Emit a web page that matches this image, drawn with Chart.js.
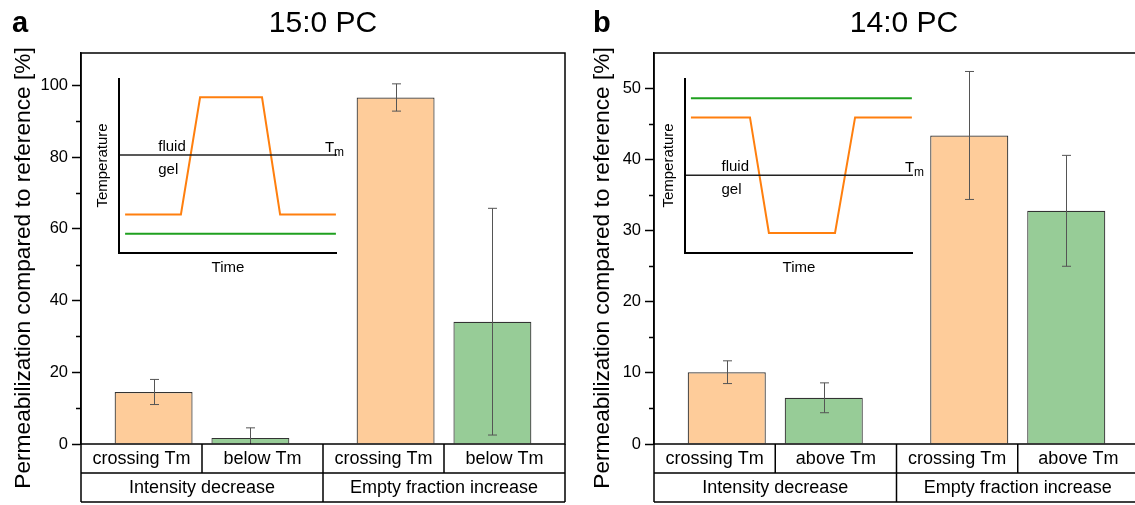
<!DOCTYPE html>
<html>
<head>
<meta charset="utf-8">
<script src="https://cdn.jsdelivr.net/npm/chart.js@4"></script>
<style>
  html, body { margin: 0; padding: 0; background: #fff; overflow: hidden; }
  #page { position: relative; width: 1135px; height: 505px; overflow: hidden; }
  .box { position: absolute; }
</style>
</head>
<body>
<div id="page">
  <div class="box" style="left:0;top:0;width:567px;height:505px"><canvas id="mainA"></canvas></div>
  <div class="box" style="left:567px;top:0;width:578px;height:505px"><canvas id="mainB"></canvas></div>
  <div class="box" style="left:90px;top:60px;width:270px;height:220px"><canvas id="insetA"></canvas></div>
  <div class="box" style="left:655px;top:60px;width:280px;height:220px"><canvas id="insetB"></canvas></div>
</div>
<script>
// bar slots on the x axis (two groups of two bars)
const crossingSlots = [1, 3.5];
const otherSlots = [2, 4.5];

const groupLabels = ['Intensity decrease', 'Empty fraction increase'];
const subLabelsA = ['crossing Tm', 'below Tm', 'crossing Tm', 'below Tm'];
const subLabelsB = ['crossing Tm', 'above Tm', 'crossing Tm', 'above Tm'];

// panel a: 15:0 PC
const crossingA = [14.5, 96.6];
const crossingErrA = [3.5, 3.8];
const belowA = [1.7, 34.1];
const belowErrA = [2.8, 31.6];
const yMaxA = 109;
const yStepA = 20;

// panel b: 14:0 PC
const crossingB = [10.1, 43.4];
const crossingErrB = [1.6, 9.0];
const aboveB = [6.5, 32.8];
const aboveErrB = [2.1, 7.8];
const yMaxB = 55;
const yStepB = 10;

// insets: temperature protocol vs time (arbitrary units 0..10)
const tmLevelA = 5.6;
const insetTimeA = [0.28, 2.84, 3.72, 6.56, 7.39, 9.95];
const insetCrossA = [2.2, 2.2, 8.9, 8.9, 2.2, 2.2];
const insetFlatTimeA = [0.28, 9.95];
const insetFlatA = [1.1, 1.1];

const tmLevelB = 4.45;
const insetTimeB = [0.26, 2.85, 3.68, 6.58, 7.46, 9.95];
const insetCrossB = [7.75, 7.75, 1.15, 1.15, 7.75, 7.75];
const insetFlatTimeB = [0.26, 9.95];
const insetFlatB = [8.85, 8.85];

const FONT = "'Liberation Sans', Arial, sans-serif";
Chart.defaults.font.family = FONT;
Chart.defaults.color = '#000';

const ORANGE_FILL = '#fecc9a';
const GREEN_FILL = '#97cc97';
const ORANGE_LINE = '#ff7f0e';
const GREEN_LINE = '#1fa01f';

function points(xs, ys) {
  return ys.map((v, i) => ({ x: xs[i], y: v }));
}

// draws the error bars on top of the bars
const errorBars = {
  id: 'errorBars',
  afterDatasetsDraw(chart) {
    const { ctx, chartArea, scales: { x, y } } = chart;
    ctx.save();
    ctx.beginPath();
    ctx.rect(chartArea.left, chartArea.top, chartArea.width, chartArea.height);
    ctx.clip();
    ctx.strokeStyle = '#555';
    ctx.lineWidth = 1;
    chart.data.datasets.forEach(ds => {
      ds.data.forEach((p, i) => {
        const err = ds.errors[i];
        const px = Math.round(x.getPixelForValue(p.x)) + 0.5;
        const top = y.getPixelForValue(p.y + err);
        const bot = y.getPixelForValue(p.y - err);
        ctx.beginPath();
        ctx.moveTo(px, top);
        ctx.lineTo(px, bot);
        ctx.moveTo(px - 4.5, top);
        ctx.lineTo(px + 4.5, top);
        ctx.moveTo(px - 4.5, bot);
        ctx.lineTo(px + 4.5, bot);
        ctx.stroke();
      });
    });
    ctx.restore();
  }
};

// frame, minor ticks, category table and texts
const decor = {
  id: 'decor',
  afterDraw(chart, args, o) {
    const { ctx, chartArea: a, scales: { y } } = chart;
    ctx.save();
    ctx.strokeStyle = '#000';
    ctx.fillStyle = '#000';
    ctx.lineWidth = 1.5;
    ctx.strokeRect(a.left, a.top, a.width, a.height);

    // minor ticks
    ctx.beginPath();
    for (let v = o.minor; v < y.max; v += o.minor * 2) {
      const py = Math.round(y.getPixelForValue(v)) + 0.5;
      ctx.moveTo(a.left - 5, py);
      ctx.lineTo(a.left, py);
    }
    ctx.stroke();

    // category table
    const rowH = 29;
    const r1 = a.bottom, r2 = a.bottom + rowH, r3 = a.bottom + rowH * 2;
    const colW = a.width / 4;
    ctx.beginPath();
    ctx.moveTo(a.left, r2); ctx.lineTo(a.right, r2);
    ctx.moveTo(a.left, r3); ctx.lineTo(a.right, r3);
    ctx.moveTo(a.left, r1); ctx.lineTo(a.left, r3);
    ctx.moveTo(a.right, r1); ctx.lineTo(a.right, r3);
    for (let k = 1; k < 4; k++) {
      const px = a.left + colW * k;
      ctx.moveTo(px, r1);
      ctx.lineTo(px, k === 2 ? r3 : r2);
    }
    ctx.stroke();

    ctx.font = '18px ' + FONT;
    ctx.textAlign = 'center';
    ctx.textBaseline = 'middle';
    o.subLabels.forEach((t, k) => ctx.fillText(t, a.left + colW * (k + 0.5), r1 + rowH / 2 + 1));
    o.groupLabels.forEach((t, k) => ctx.fillText(t, a.left + colW * (2 * k + 1), r2 + rowH / 2 + 1));

    // titles
    ctx.textBaseline = 'alphabetic';
    ctx.font = '30px ' + FONT;
    ctx.fillText(o.title, o.titleX, 32);
    ctx.textAlign = 'left';
    ctx.font = 'bold 29px ' + FONT;
    ctx.fillText(o.letter, o.letterX, 32);

    // y axis title
    ctx.translate(o.axisTitleX, 268);
    ctx.rotate(-Math.PI / 2);
    ctx.textAlign = 'center';
    ctx.textBaseline = 'middle';
    ctx.font = '22.7px ' + FONT;
    ctx.fillText('Permeabilization compared to reference [%]', 0, 0);
    ctx.restore();
  }
};

function mainChart(id, crossing, crossingErr, other, otherErr, yMax, yStep, yAxisWidth, padRight, deco) {
  const barStyle = {
    borderColor: '#333',
    borderWidth: 1.2,
    grouped: false,
    categoryPercentage: 1,
    barPercentage: 0.805
  };
  return new Chart(document.getElementById(id), {
    type: 'bar',
    data: {
      datasets: [
        Object.assign({
          label: 'crossing Tm',
          data: points(crossingSlots, crossing),
          errors: crossingErr,
          backgroundColor: ORANGE_FILL
        }, barStyle),
        Object.assign({
          label: deco.subLabels[1],
          data: points(otherSlots, other),
          errors: otherErr,
          backgroundColor: GREEN_FILL
        }, barStyle)
      ]
    },
    options: {
      responsive: true,
      maintainAspectRatio: false,
      animation: false,
      devicePixelRatio: 1,
      events: [],
      layout: { padding: { top: 53, bottom: 61, left: 0, right: padRight } },
      plugins: { legend: { display: false }, tooltip: { enabled: false }, decor: deco },
      scales: {
        x: {
          type: 'linear', min: 0.25, max: 5.25, offset: false, display: false,
          // ticks only on the bar slots, so the bar width follows the slot spacing
          afterBuildTicks(scale) {
            scale.ticks = crossingSlots.concat(otherSlots).sort((p, q) => p - q).map(v => ({ value: v }));
          }
        },
        y: {
          min: 0,
          max: yMax,
          ticks: { stepSize: yStep, font: { size: 16.5 }, color: '#000', padding: 4 },
          grid: { drawOnChartArea: false, tickLength: 9, tickColor: '#000', tickWidth: 1.5 },
          border: { color: '#000', width: 1.5 },
          afterBuildTicks(scale) {
            scale.ticks = scale.ticks.filter(t => t.value % yStep === 0);
          },
          afterFit(scale) { scale.width = yAxisWidth; }
        }
      }
    },
    plugins: [errorBars, decor]
  });
}

mainChart('mainA', crossingA, crossingErrA, belowA, belowErrA, yMaxA, yStepA, 81, 2, {
  title: '15:0 PC', titleX: 323, letter: 'a', letterX: 12, axisTitleX: 24, minor: 10,
  subLabels: subLabelsA, groupLabels: groupLabels
});
mainChart('mainB', crossingB, crossingErrB, aboveB, aboveErrB, yMaxB, yStepB, 87, 6, {
  title: '14:0 PC', titleX: 337, letter: 'b', letterX: 26, axisTitleX: 36, minor: 5,
  subLabels: subLabelsB, groupLabels: groupLabels
});

// inset axes and labels
const insetDecor = {
  id: 'insetDecor',
  afterDraw(chart, args, o) {
    const { ctx, chartArea: a, scales: { x, y } } = chart;
    ctx.save();
    ctx.strokeStyle = '#000';
    ctx.fillStyle = '#000';
    ctx.lineWidth = 2;
    ctx.beginPath();
    ctx.moveTo(a.left, a.top);
    ctx.lineTo(a.left, a.bottom);
    ctx.lineTo(a.right, a.bottom);
    ctx.stroke();

    const tmY = y.getPixelForValue(o.tm);
    ctx.font = '15px ' + FONT;
    ctx.textAlign = 'left';
    ctx.fillText('fluid', x.getPixelForValue(o.phaseX), tmY - 4);
    ctx.fillText('gel', x.getPixelForValue(o.phaseX), tmY + 19);
    const tx = a.right + o.tmDx;
    ctx.fillText('T', tx, tmY - 3);
    ctx.font = '12px ' + FONT;
    ctx.fillText('m', tx + 9, tmY + 1);

    ctx.font = '15px ' + FONT;
    ctx.textAlign = 'center';
    ctx.textBaseline = 'top';
    ctx.fillText('Time', (a.left + a.right) / 2, a.bottom + 7);
    ctx.translate(a.left - 16, (a.top + a.bottom) / 2);
    ctx.rotate(-Math.PI / 2);
    ctx.textBaseline = 'middle';
    ctx.fillText('Temperature', 0, 0);
    ctx.restore();
  }
};

function insetChart(id, tm, time, cross, flatTime, flat, pad, deco) {
  return new Chart(document.getElementById(id), {
    type: 'line',
    data: {
      datasets: [
        { data: points([0, 10], [tm, tm]), borderColor: '#222', borderWidth: 1.5 },
        { data: points(flatTime, flat), borderColor: GREEN_LINE, borderWidth: 2 },
        { data: points(time, cross), borderColor: ORANGE_LINE, borderWidth: 2 }
      ]
    },
    options: {
      responsive: true,
      maintainAspectRatio: false,
      animation: false,
      devicePixelRatio: 1,
      events: [],
      layout: { padding: pad },
      elements: { point: { radius: 0 }, line: { tension: 0 } },
      plugins: { legend: { display: false }, tooltip: { enabled: false }, insetDecor: deco },
      scales: {
        x: { type: 'linear', min: 0, max: 10, display: false },
        y: { type: 'linear', min: 0, max: 10, display: false }
      }
    },
    plugins: [insetDecor]
  });
}

insetChart('insetA', tmLevelA, insetTimeA, insetCrossA, insetFlatTimeA, insetFlatA,
  { left: 29, top: 18, right: 23, bottom: 27 }, { tm: tmLevelA, phaseX: 1.8, tmDx: -12 });
insetChart('insetB', tmLevelB, insetTimeB, insetCrossB, insetFlatTimeB, insetFlatB,
  { left: 30, top: 18, right: 22, bottom: 27 }, { tm: tmLevelB, phaseX: 1.6, tmDx: -8 });
</script>
</body>
</html>
